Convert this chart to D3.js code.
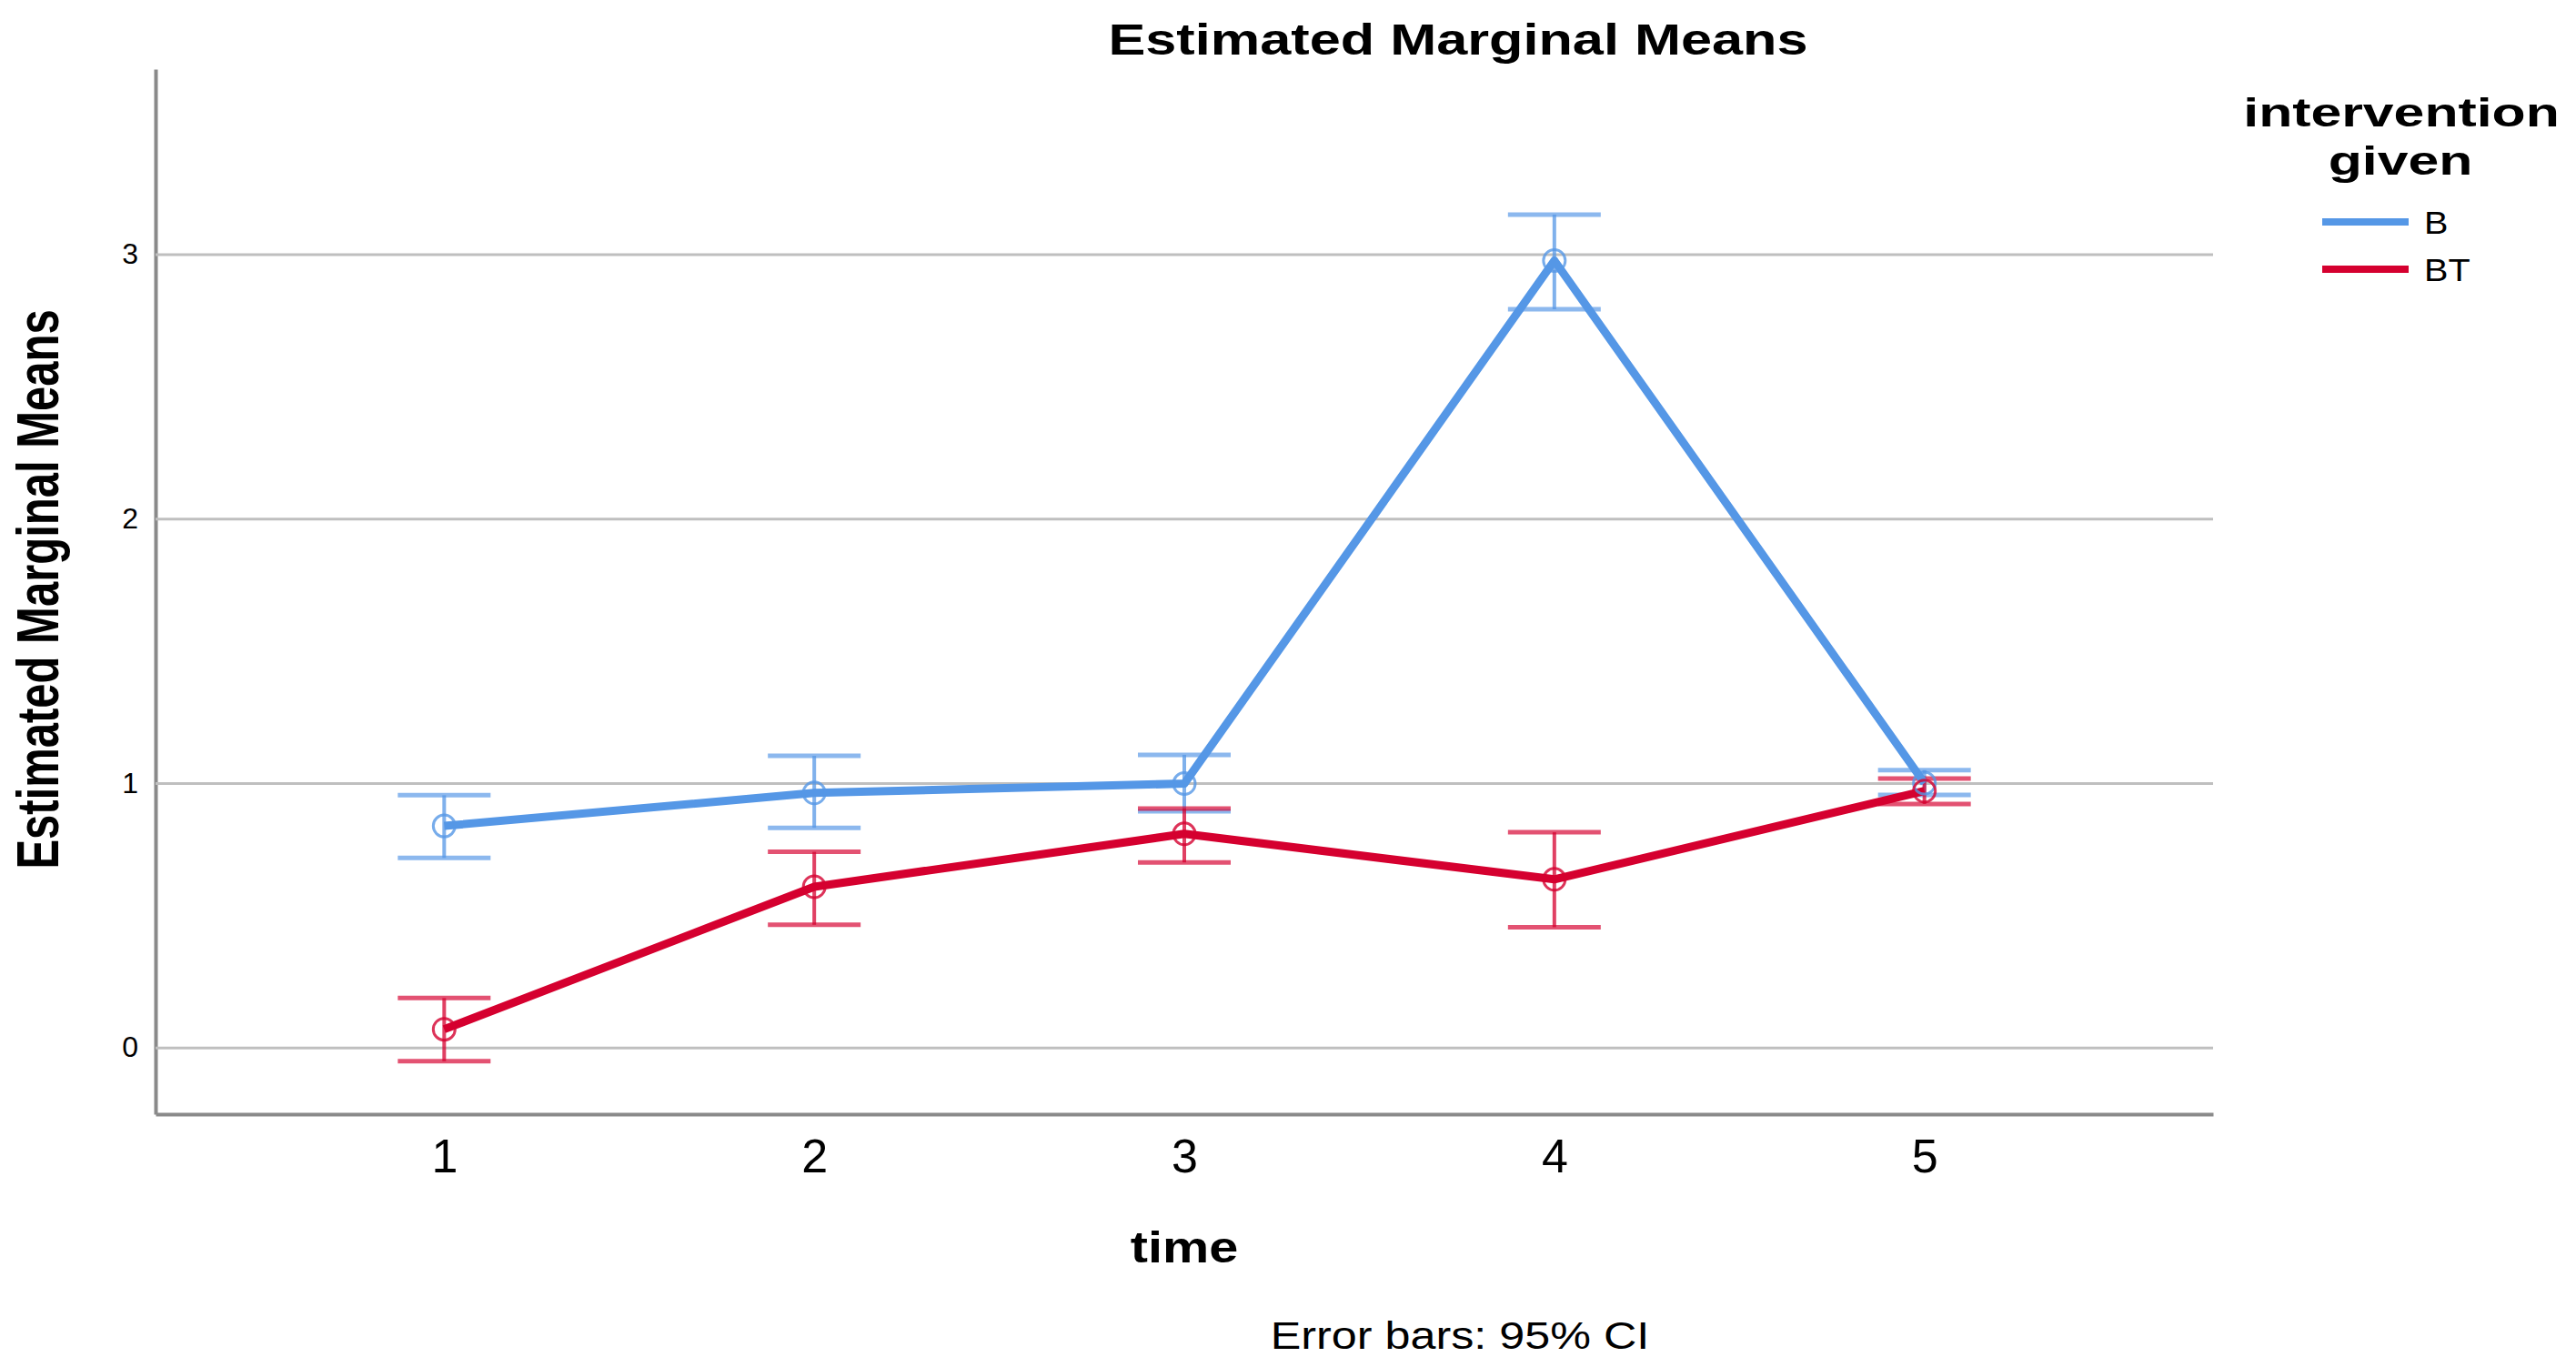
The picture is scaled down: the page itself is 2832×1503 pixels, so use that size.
<!DOCTYPE html>
<html>
<head>
<meta charset="utf-8">
<script src="https://cdn.jsdelivr.net/npm/d3@7"></script>
<style>
  body { margin: 0; background: #fff; }
  svg { display: block; }
</style>
</head>
<body>
<div id="frame"></div>
<script>
const width = 2832
const height = 1503

// data
const times = [1, 2, 3, 4, 5]
const groups = ['B', 'BT']
const meanB = [0.838, 0.963, 0.998, 2.976, 1.00]
const lowB = [0.717, 0.831, 0.893, 2.792, 0.955]
const highB = [0.954, 1.103, 1.107, 3.150, 1.049]
const meanBT = [0.069, 0.608, 0.808, 0.636, 0.97]
const lowBT = [-0.052, 0.464, 0.700, 0.455, 0.921]
const highBT = [0.187, 0.740, 0.904, 0.814, 1.017]
const yTicks = [0, 1, 2, 3]

const plot = { left: 171, right: 2433, top: 76, bottom: 1225 }
const font = '"Liberation Sans", Arial, sans-serif'

const style = {
  B: { color: '#5597e6' },
  BT: { color: '#d5002f' },
  grid: '#bfbfbf',
  axis: '#8a8a8a'
}

const series = [
  { key: 'B', mean: meanB, low: lowB, high: highB },
  { key: 'BT', mean: meanBT, low: lowBT, high: highBT }
].map(s => Object.assign({}, s, {
  points: times.map((t, i) => ({ t, m: s.mean[i], lo: s.low[i], hi: s.high[i] }))
}))

const x = d3.scalePoint()
  .domain(times)
  .range([plot.left, plot.right])
  .padding(0.78)

const y = d3.scaleLinear()
  .domain([-0.252, 3.70])
  .range([plot.bottom, plot.top])

const svg = d3.select('#frame')
  .append('svg')
  .attr('width', width)
  .attr('height', height)
  .style('font-family', font)

// text in the original is stretched sideways a bit
function addText(parent, str, px, py, opts) {
  const g = parent.append('g')
    .attr('transform', `translate(${px},${py}) scale(${opts.k || 1},1)` + (opts.rotate ? ` rotate(${opts.rotate})` : ''))
  return g.append('text')
    .attr('text-anchor', opts.anchor || 'middle')
    .attr('font-size', opts.size)
    .attr('font-weight', opts.weight || 'normal')
    .attr('fill', '#000')
    .text(str)
}

// y axis with gridlines
const yAxis = svg.append('g')
  .attr('transform', `translate(${plot.left},0)`)
  .call(d3.axisLeft(y)
    .tickValues(yTicks)
    .tickSize(-(plot.right - plot.left))
    .tickSizeOuter(0)
    .tickPadding(19)
    .tickFormat(d3.format('d')))

yAxis.selectAll('.tick line')
  .attr('stroke', style.grid)
  .attr('stroke-width', 3)
yAxis.selectAll('.tick text')
  .attr('font-size', 32)
  .attr('font-family', font)
  .attr('fill', '#000')
yAxis.select('.domain')
  .attr('stroke', style.axis)
  .attr('stroke-width', 4)

// x axis
const xAxis = svg.append('g')
  .attr('transform', `translate(0,${plot.bottom})`)
  .call(d3.axisBottom(x)
    .tickSize(0)
    .tickSizeOuter(0)
    .tickPadding(27))

xAxis.select('.domain')
  .attr('stroke', style.axis)
  .attr('stroke-width', 4)
xAxis.selectAll('.tick text')
  .attr('font-size', 52)
  .attr('font-family', font)
  .attr('fill', '#000')

// error bars
const capHalf = 51
series.forEach(s => {
  const c = style[s.key].color
  const g = svg.append('g').attr('class', `err-${s.key}`)
  g.selectAll('line.stem')
    .data(s.points)
    .join('line')
    .attr('class', 'stem')
    .attr('x1', d => x(d.t))
    .attr('x2', d => x(d.t))
    .attr('y1', d => y(d.lo))
    .attr('y2', d => y(d.hi))
    .attr('stroke', c)
    .attr('stroke-opacity', 0.75)
    .attr('stroke-width', 4)
  g.selectAll('line.cap')
    .data(s.points.flatMap(d => [{ t: d.t, v: d.lo }, { t: d.t, v: d.hi }]))
    .join('line')
    .attr('class', 'cap')
    .attr('x1', d => x(d.t) - capHalf)
    .attr('x2', d => x(d.t) + capHalf)
    .attr('y1', d => y(d.v))
    .attr('y2', d => y(d.v))
    .attr('stroke', c)
    .attr('stroke-opacity', 0.68)
    .attr('stroke-width', 5)
})

// mean lines
const line = d3.line()
  .x(d => x(d.t))
  .y(d => y(d.m))

series.forEach(s => {
  svg.append('path')
    .datum(s.points)
    .attr('d', line)
    .attr('fill', 'none')
    .attr('stroke', style[s.key].color)
    .attr('stroke-width', 9)
    .attr('stroke-linejoin', 'round')
})

// markers
series.forEach(s => {
  svg.append('g')
    .selectAll('circle')
    .data(s.points)
    .join('circle')
    .attr('cx', d => x(d.t))
    .attr('cy', d => y(d.m))
    .attr('r', 12)
    .attr('fill', 'none')
    .attr('stroke', style[s.key].color)
    .attr('stroke-opacity', 0.8)
    .attr('stroke-width', 3)
})

// titles
addText(svg, 'Estimated Marginal Means', 1603, 60, { size: 49, weight: 'bold', k: 1.25 })
addText(svg, 'Estimated Marginal Means', 64, 648, { size: 49, weight: 'bold', k: 1.33, rotate: -90 })
addText(svg, 'time', 1302, 1388, { size: 48, weight: 'bold', k: 1.2 })
addText(svg, 'Error bars: 95% CI', 1605, 1483, { size: 43, k: 1.17 })

// legend
const legend = svg.append('g')
addText(legend, 'intervention', 2640, 139, { size: 44, weight: 'bold', k: 1.38 })
addText(legend, 'given', 2639, 192, { size: 44, weight: 'bold', k: 1.38 })

const legendY = d3.scalePoint().domain(groups).range([244, 296])
groups.forEach(k => {
  legend.append('line')
    .attr('x1', 2553)
    .attr('x2', 2648)
    .attr('y1', legendY(k))
    .attr('y2', legendY(k))
    .attr('stroke', style[k].color)
    .attr('stroke-width', 8)
  addText(legend, k, 2665, legendY(k) + 13, { size: 36, anchor: 'start', k: 1.1 })
})
</script>
</body>
</html>
